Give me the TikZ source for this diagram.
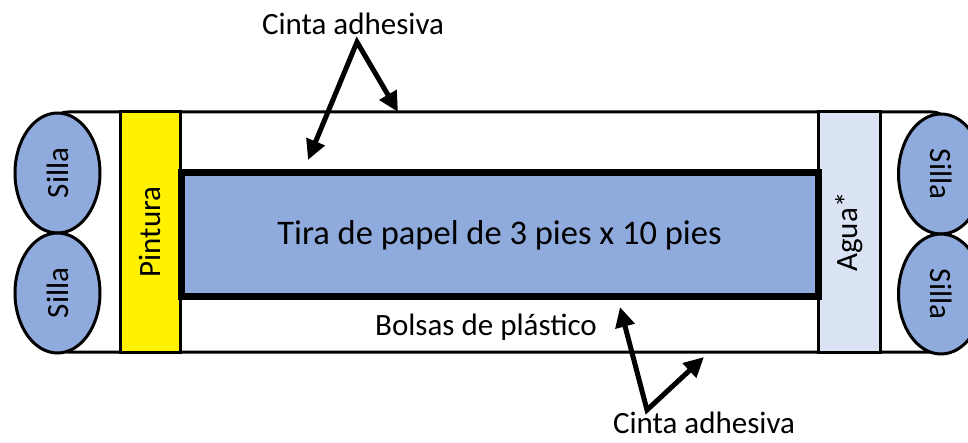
\documentclass[tikz,border=0pt]{standalone}
\usepackage{fontspec}
\setmainfont{Carlito}
\usetikzlibrary{arrows.meta,shapes.geometric}

\definecolor{papel}{HTML}{8FAADC}
\definecolor{agua}{HTML}{DAE3F3}

\begin{document}
\begin{tikzpicture}[x=1pt,y=-1pt]
  \useasboundingbox (0,0) rectangle (968,443);

  \draw[line width=3pt, rounded corners=18pt] (50,112) rectangle (950,352);

  \begin{scope}[every node/.style={rectangle, draw, line width=3pt, inner sep=0pt,
      minimum width=240pt, rotate=90, font=\fontsize{31}{31}\selectfont}]
    \node[fill=yellow, minimum height=60pt] (pintura) at (150,232) {Pintura};
    \node[fill=agua, minimum height=62pt]   (agua)    at (849,232) {Agua*};
  \end{scope}

  \node[rectangle, draw, line width=7pt, fill=papel, inner sep=0pt,
    minimum width=637pt, minimum height=124pt, font=\fontsize{34.5}{34.5}\selectfont]
    (tira) at (499.5,235) {Tira de papel de 3 pies x 10 pies};

  \begin{scope}[every node/.style={ellipse, draw, line width=3pt, fill=papel, inner sep=0pt,
      minimum width=120pt, minimum height=85pt, font=\fontsize{31}{31}\selectfont}]
    \node[rotate=90]  (silla1) at (57.5,173) {Silla};
    \node[rotate=90]  (silla2) at (57.5,293) {Silla};
    \node[rotate=-90] (silla3) at (941,174)  {Silla};
    \node[rotate=-90] (silla4) at (941,294)  {Silla};
  \end{scope}

  \begin{scope}[every node/.style={font=\fontsize{31}{31}\selectfont, inner sep=0pt}]
    \node (bolsas)     at (486,327) {Bolsas de plástico};
    \node (cintaarriba) at (353,24)  {Cinta adhesiva};
    \node (cintaabajo)  at (704,423) {Cinta adhesiva};
  \end{scope}

  \coordinate (v1) at (357,42);
  \coordinate (a1) at (308,160);
  \coordinate (a2) at (398,112);
  \coordinate (v2) at (647,410);
  \coordinate (b1) at (620,307);
  \coordinate (b2) at (704,357);

  \begin{scope}[line width=5pt, line join=miter,
      arrows={{Triangle[length=20pt,width=19pt]}-{Triangle[length=20pt,width=19pt]}}]
    \draw (a1) -- (v1) -- (a2);
    \draw (b1) -- (v2) -- (b2);
  \end{scope}

\end{tikzpicture}
\end{document}
